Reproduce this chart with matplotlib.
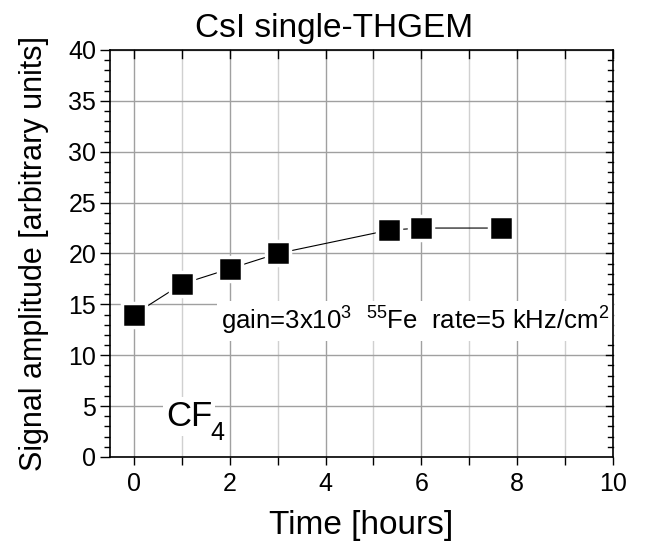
import matplotlib
matplotlib.use("Agg")
import matplotlib.pyplot as plt
from matplotlib.ticker import MultipleLocator

plt.rcParams['font.family'] = ['Liberation Sans', 'DejaVu Sans']
plt.rcParams['mathtext.fontset'] = 'custom'
plt.rcParams['mathtext.rm'] = 'Liberation Sans'
plt.rcParams['mathtext.default'] = 'regular'

# data
time_h = [0, 1, 2, 3, 5.33, 6, 7.67]
signal = [14, 17, 18.5, 20, 22.3, 22.5, 22.5]

fig = plt.figure(figsize=(6.6, 5.41), dpi=100)
ax = fig.add_axes([0.1667, 0.1553, 0.7621, 0.7523])

ax.set_xlim(-0.5, 10)
ax.set_ylim(0, 40)
ax.xaxis.set_major_locator(MultipleLocator(2))
ax.xaxis.set_minor_locator(MultipleLocator(1))
ax.yaxis.set_major_locator(MultipleLocator(5))
ax.yaxis.set_minor_locator(MultipleLocator(1))

ax.grid(which='major', axis='both', color='#a0a0a0', lw=1)
ax.grid(which='minor', axis='x', color='#d0d0d0', lw=1)
ax.set_axisbelow(True)

ax.plot(time_h, signal, '-', color='black', lw=0.8, marker='s', ms=17,
        mfc='black', mec='white', mew=2.5, zorder=3)

ax.tick_params(axis='both', which='both', direction='out', labelsize=18, width=1)
ax.tick_params(axis='x', which='both', length=6, pad=5)
ax.tick_params(axis='y', which='major', length=7, pad=3)
ax.tick_params(axis='y', which='minor', length=4)
for s in ax.spines.values():
    s.set_linewidth(1.2)

# inner ticks on top / right
for x in range(0, 11):
    ax.plot([x, x], [40, 39.2], color='black', lw=1, clip_on=False)
for y in range(5, 40, 5):
    ax.plot([10, 9.85], [y, y], color='black', lw=1, clip_on=False)
for y in range(1, 40):
    if y % 5:
        ax.plot([10, 9.9], [y, y], color='black', lw=1, clip_on=False)

ax.text(1.82, 12.5, r"gain=3x10$^3$  $^{55}$Fe  rate=5 kHz/cm$^2$", fontsize=18.5,
        bbox=dict(facecolor='white', edgecolor='none', pad=3), zorder=2.2)
ax.text(0.67, 3.05, "CF", fontsize=25,
        bbox=dict(facecolor='white', edgecolor='none', pad=2), zorder=2.2)
ax.text(1.6, 1.65, "4", fontsize=18,
        bbox=dict(facecolor='white', edgecolor='none', pad=1), zorder=2.2)

ax.set_xlabel("Time [hours]", fontsize=24, labelpad=10)
ax.set_ylabel("Signal amplitude [arbitrary units]", fontsize=22, labelpad=14)
fig.text(0.506, 0.948, "CsI single-THGEM", fontsize=24, ha='center', va='center')

fig.savefig("out.png", dpi=100)
